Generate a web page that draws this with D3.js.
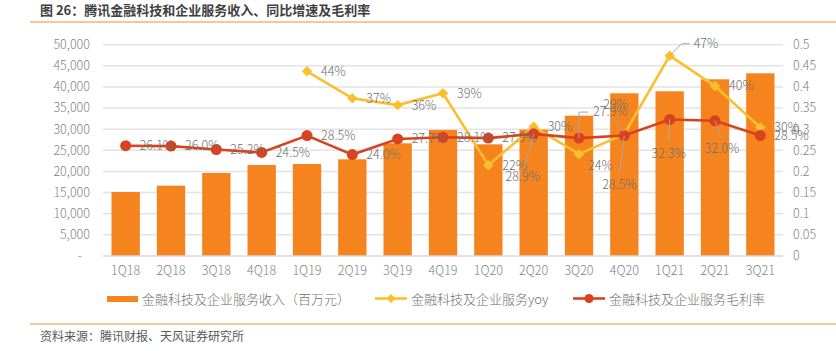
<!DOCTYPE html>
<html lang="zh">
<head>
<meta charset="utf-8">
<title>腾讯金融科技和企业服务收入</title>
<script src="https://cdn.jsdelivr.net/npm/d3@7"></script>
<style>
  body { margin: 0; background: #fff; }
  svg { display: block; font-family: "Noto Sans CJK SC", "Noto Sans", sans-serif; }
  .tick-lab { fill: #7f7f7f; font-size: 12.5px; font-weight: 300; }
  .dlab { fill: #6f6f6f; font-size: 12.5px; font-weight: 300; }
  .leg { fill: #6f6f6f; font-size: 13px; font-weight: 300; }
</style>
</head>
<body>
<script>
// quarters
const quarters = ["1Q18","2Q18","3Q18","4Q18","1Q19","2Q19","3Q19","4Q19","1Q20","2Q20","3Q20","4Q20","1Q21","2Q21","3Q21"];
// revenue, RMB mn
const revenue = [15150,16640,19640,21530,21770,22880,26670,29820,26430,29900,33200,38500,38970,41810,43230];
// yoy growth (null before 1Q19)
const yoy = [null,null,null,null,0.437,0.373,0.357,0.385,0.215,0.306,0.241,0.289,0.474,0.402,0.304];
const yoyLabels = [null,null,null,null,"44%","37%","36%","39%","22%","30%","24%","29%","47%","40%","30%"];
// gross margin
const margin = [0.261,0.260,0.252,0.245,0.285,0.240,0.277,0.281,0.279,0.289,0.279,0.285,0.323,0.320,0.285];
const marginLabels = ["26.1%","26.0%","25.2%","24.5%","28.5%","24.0%","27.7%","28.1%","27.9%","28.9%","27.9%","28.5%","32.3%","32.0%","28.5%"];
// axis ticks
const leftTicks = [0,5000,10000,15000,20000,25000,30000,35000,40000,45000,50000];
const rightTicks = [0,0.05,0.1,0.15,0.2,0.25,0.3,0.35,0.4,0.45,0.5];

const W = 836, H = 351;
const plot = {left: 103, right: 783, top: 44.7, bottom: 256};

const svg = d3.select("body").append("svg").attr("width", W).attr("height", H);

// title + rules
svg.append("text").attr("x", 40).attr("y", 15)
  .attr("font-size", 13).attr("font-weight", 700).attr("fill", "#3f3f3f")
  .text("图 26：腾讯金融科技和企业服务收入、同比增速及毛利率");
svg.append("line").attr("x1", 30).attr("x2", W).attr("y1", 22).attr("y2", 22)
  .attr("stroke", "#f7b27a").attr("stroke-width", 1.5);
svg.append("line").attr("x1", 30).attr("x2", W).attr("y1", 324).attr("y2", 324)
  .attr("stroke", "#f7b27a").attr("stroke-width", 1.5);
svg.append("text").attr("x", 40).attr("y", 341)
  .attr("font-size", 12).attr("fill", "#595959")
  .text("资料来源：腾讯财报、天风证券研究所");

// scales
const x = d3.scaleBand().domain(quarters).range([plot.left, plot.right]).paddingInner(0.375).paddingOuter(0.1875);
const yL = d3.scaleLinear().domain([0, 50000]).range([plot.bottom, plot.top]);
const yR = d3.scaleLinear().domain([0, 0.5]).range([plot.bottom, plot.top]);
const cx = q => x(q) + x.bandwidth() / 2;

// gridlines
svg.append("g").selectAll("line").data(leftTicks.slice(1)).join("line")
  .attr("x1", plot.left).attr("x2", plot.right)
  .attr("y1", d => yL(d)).attr("y2", d => yL(d))
  .attr("stroke", "#e3e3e3").attr("stroke-width", 1.5);

// left axis labels
const fmt = d3.format(",");
svg.append("g").selectAll("text").data(leftTicks).join("text")
  .attr("class", "tick-lab")
  .attr("x", d => d === 0 ? 82 : 90).attr("y", d => yL(d)).attr("dy", "0.35em")
  .attr("text-anchor", "end")
  .text(d => d === 0 ? "-" : fmt(d));

// right axis labels
svg.append("g").selectAll("text").data(rightTicks).join("text")
  .attr("class", "tick-lab")
  .attr("x", 793).attr("y", d => yR(d)).attr("dy", "0.35em")
  .text(d => String(d));

// bars
svg.append("g").selectAll("rect").data(quarters).join("rect")
  .attr("x", q => x(q)).attr("width", x.bandwidth())
  .attr("y", (q, i) => yL(revenue[i]))
  .attr("height", (q, i) => plot.bottom - yL(revenue[i]))
  .attr("fill", "#f5841f");

// x axis line + labels
svg.append("line").attr("x1", plot.left).attr("x2", plot.right)
  .attr("y1", plot.bottom).attr("y2", plot.bottom)
  .attr("stroke", "#d9d9d9").attr("stroke-width", 1.5);
svg.append("g").selectAll("text").data(quarters).join("text")
  .attr("class", "tick-lab")
  .attr("x", q => cx(q)).attr("y", 271).attr("dy", "0.35em")
  .attr("text-anchor", "middle").text(q => q);

// yoy line
const yoyPts = quarters.map((q, i) => ({q, v: yoy[i], lab: yoyLabels[i], i})).filter(d => d.v !== null);
svg.append("path").datum(yoyPts)
  .attr("fill", "none").attr("stroke", "#fbbf2d").attr("stroke-width", 2.6)
  .attr("d", d3.line().x(d => cx(d.q)).y(d => yR(d.v)));
svg.append("g").selectAll("path").data(yoyPts).join("path")
  .attr("d", d3.symbol(d3.symbolDiamond2, 70))
  .attr("transform", d => `translate(${cx(d.q)},${yR(d.v)})`)
  .attr("fill", "#fbbf2d");

// margin line
const mPts = quarters.map((q, i) => ({q, v: margin[i], lab: marginLabels[i], i}));
svg.append("path").datum(mPts)
  .attr("fill", "none").attr("stroke", "#d9421e").attr("stroke-width", 2.6)
  .attr("d", d3.line().x(d => cx(d.q)).y(d => yR(d.v)));
svg.append("g").selectAll("circle").data(mPts).join("circle")
  .attr("cx", d => cx(d.q)).attr("cy", d => yR(d.v)).attr("r", 5.5)
  .attr("fill", "#d9421e");

// label placement: default right of point; some moved with leader lines
// each: [dx, dy, anchor, leader points relative to point]
const yoyPlace = {
  10: {dx: 9, dy: 11},
  11: {dx: -21, dy: -29, lead: [[0, -2], [-11, -16]]},
  12: {dx: 24, dy: -12, lead: [[0, 0], [12, -12], [20, -12]]}
};
const mPlace = {
  9:  {dx: -11, dy: 43, anchor: "middle", lead: [[0, 0], [-10, 35]]},
  10: {dx: 14, dy: -26, lead: [[0, 0], [0, -26], [9, -26]]},
  11: {dx: -5, dy: 49, anchor: "middle", lead: [[0, 0], [-5, 38]]},
  12: {dx: -1, dy: 34, anchor: "middle", lead: [[0, 0], [-1, 22]]},
  13: {dx: 7, dy: 28, anchor: "middle", lead: [[0, 0], [6, 16]]}
};

function drawLabels(pts, place, scale) {
  const g = svg.append("g");
  pts.forEach(d => {
    const px = cx(d.q), py = scale(d.v);
    const p = place[d.i] || {dx: 14, dy: 0};
    if (p.lead) {
      g.append("path")
        .attr("d", d3.line()(p.lead.map(l => [px + l[0], py + l[1]])))
        .attr("fill", "none").attr("stroke", "#a6a6a6").attr("stroke-width", 1);
    }
    g.append("text").attr("class", "dlab")
      .attr("x", px + p.dx).attr("y", py + p.dy).attr("dy", "0.35em")
      .attr("text-anchor", p.anchor || "start")
      .text(d.lab);
  });
}
drawLabels(yoyPts, yoyPlace, yR);
drawLabels(mPts, mPlace, yR);

// legend
const leg = svg.append("g");
leg.append("rect").attr("x", 107).attr("y", 296).attr("width", 31).attr("height", 6).attr("fill", "#f5841f");
leg.append("text").attr("class", "leg").attr("x", 142).attr("y", 299).attr("dy", "0.35em")
  .text("金融科技及企业服务收入（百万元）");
leg.append("line").attr("x1", 375).attr("x2", 407).attr("y1", 298.5).attr("y2", 298.5)
  .attr("stroke", "#fbbf2d").attr("stroke-width", 2.6);
leg.append("path").attr("d", d3.symbol(d3.symbolDiamond2, 50))
  .attr("transform", "translate(391,298.5)").attr("fill", "#fbbf2d");
leg.append("text").attr("class", "leg").attr("x", 411).attr("y", 299).attr("dy", "0.35em")
  .text("金融科技及企业服务yoy");
leg.append("line").attr("x1", 573).attr("x2", 605).attr("y1", 298.5).attr("y2", 298.5)
  .attr("stroke", "#d9421e").attr("stroke-width", 2.6);
leg.append("circle").attr("cx", 589).attr("cy", 298.5).attr("r", 4.5).attr("fill", "#d9421e");
leg.append("text").attr("class", "leg").attr("x", 609).attr("y", 299).attr("dy", "0.35em")
  .text("金融科技及企业服务毛利率");
</script>
</body>
</html>
